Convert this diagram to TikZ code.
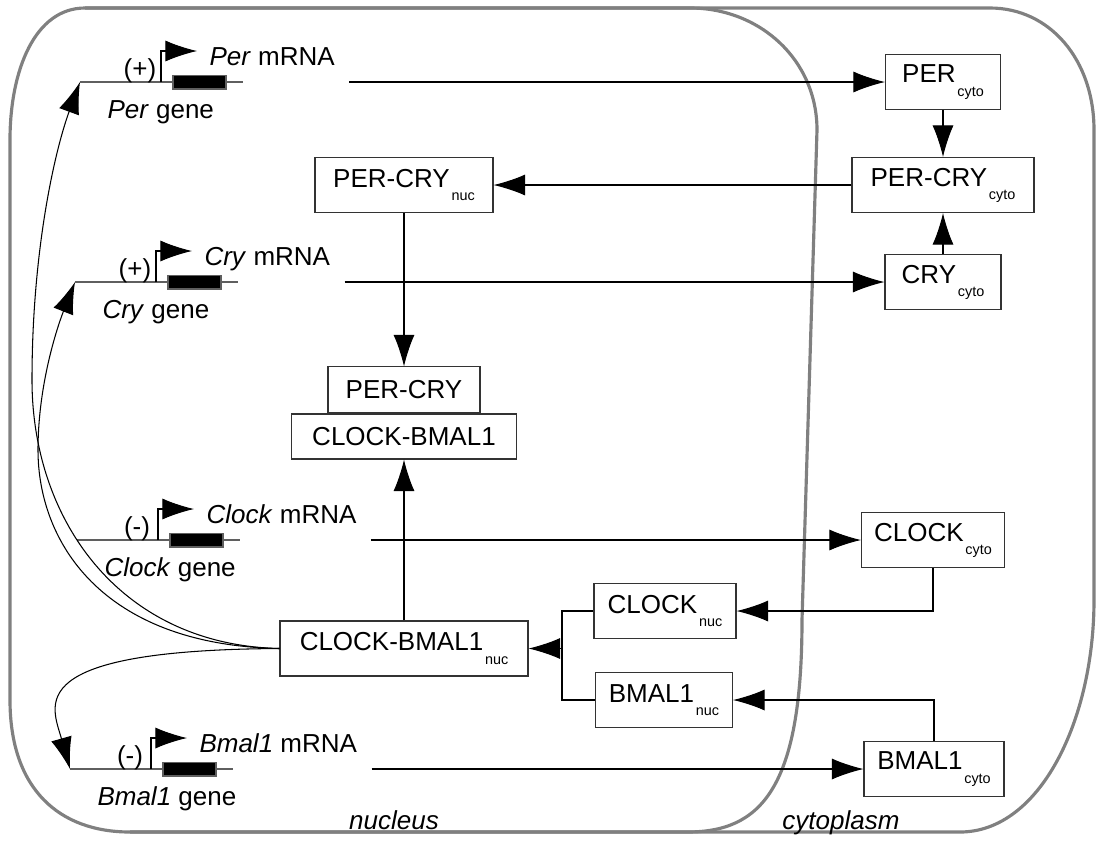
\documentclass[tikz,border=0pt]{standalone}
\usepackage{fontspec}
\setmainfont{Liberation Sans}
\usetikzlibrary{arrows.meta,positioning}
\definecolor{wall}{RGB}{128,128,128}
\definecolor{dna}{RGB}{95,95,95}
\newcommand{\loc}[1]{\kern1pt\raisebox{-7.5pt}{\fontsize{8.2}{9}\selectfont #1}}
\tikzstyle{mol}=[draw=black!80, line width=0.6pt, fill=white, inner sep=0pt, minimum height=1.1cm]
\tikzstyle{wallline}=[draw=wall, line width=1.8pt]
\tikzstyle{geneline}=[draw=dna, line width=0.8pt]
\tikzstyle{exon}=[fill=black, draw=dna, line width=0.6pt]
\tikzstyle{lbl}=[inner sep=0pt]

\begin{document}
\begin{tikzpicture}[x=0.02cm,y=-0.02cm,>={Latex[length=18pt,width=12pt]},line width=0.6pt,font=\fontsize{14.8}{17}\selectfont]
\useasboundingbox (0,0) rectangle (1096,840);
% cell and nucleus
\draw[wallline] (85,8) -- (990,8) .. controls (1050,8) and (1094,60) .. (1094,130) -- (1094,600) .. controls (1094,720) and (1040,832) .. (960,832) -- (130,832);
\draw[wallline] (85,8) -- (690,8) .. controls (760,8) and (817,60) .. (817,130) -- (802,620) .. controls (802,790) and (760,832) .. (687,832) -- (130,832) .. controls (60,832) and (10,790) .. (10,700) -- (10,140) .. controls (10,70) and (35,8) .. cycle;
\node[lbl, anchor=base] (nuc-lbl) at (394,829) {\itshape nucleus};
\node[lbl, anchor=base] (cyto-lbl) at (841,829) {\itshape cytoplasm};
% proteins
\node[mol, minimum width=2.3cm] (per-cyto) at (943,82) {PER\loc{cyto}};
\node[mol, minimum width=3.64cm] (percry-cyto) at (943,185) {PER-CRY\loc{cyto}};
\node[mol, minimum width=2.32cm] (cry-cyto) at (943,282) {CRY\loc{cyto}};
\node[mol, minimum width=3.56cm] (percry-nuc) at (404,185) {PER-CRY\loc{nuc}};
\node[mol, minimum width=4.5cm, minimum height=0.9cm] (clockbmal) at (404,436.5) {CLOCK-BMAL1};
\node[mol, minimum width=3.04cm, minimum height=0.92cm, above=0pt of clockbmal] (percry) {PER-CRY};
\node[mol, minimum width=4.96cm] (cb-nuc) at (404,648.5) {CLOCK-BMAL1\loc{nuc}};
\node[mol, minimum width=2.84cm] (clock-nuc) at (665,611) {CLOCK\loc{nuc}};
\node[mol, minimum width=2.74cm] (bmal-nuc) at (664,700) {BMAL1\loc{nuc}};
\node[mol, minimum width=2.86cm] (clock-cyto) at (933,540) {CLOCK\loc{cyto}};
\node[mol, minimum width=2.8cm] (bmal-cyto) at (934,769) {BMAL1\loc{cyto}};
\coordinate (join) at (562,648.5);
% genes
\foreach \name/\y/\xs/\sign/\gene in {per/82/80/(+)/Per, cry/282/75/(+)/Cry, clock/540/77/(-)/Clock, bmal/769/70/(-)/Bmal1}{
  \coordinate (\name-in) at (\xs,\y);
  \draw[geneline] (\name-in) -- ++(163,0);
  \draw[exon] ({\xs+93},{\y-6.5}) rectangle ++(53,13.5);
  \draw[->] ({\xs+81},\y) -- ++(0,-31) -- ++(36,0);
  \node[lbl, anchor=base] (\name-sign) at ({\xs+60},{\y-5}) {\sign};
  \node[lbl, anchor=base west] (\name-rna) at ({\xs+129},{\y-17}) {\textit{\gene} mRNA};
  \node[lbl, anchor=base west] (\name-gene) at ({\xs+27},{\y+36}) {\textit{\gene} gene};
  \draw[->] (\name-rna.east |- \name-in) ++(14,0) -- (\name-cyto.west |- \name-in);
}
% reactions
\draw[->] (per-cyto) -- (percry-cyto);
\draw[->] (cry-cyto) -- (percry-cyto);
\draw[->] (percry-cyto) -- (percry-nuc);
\draw[->] (percry-nuc) -- (percry);
\draw[->] (cb-nuc) -- (clockbmal);
\draw[->] (clock-cyto.south) |- (clock-nuc.east);
\draw[->] (bmal-cyto.north) |- (bmal-nuc.east);
\draw (clock-nuc.west) -| (join) |- (bmal-nuc.west);
\draw[->] (join) -- (cb-nuc.east);
% regulation
\draw[->] (cb-nuc.west) .. controls (120,645) and (32,520) .. (32,380) .. controls (32,250) and (55,150) .. (per-in);
\draw[->] (cb-nuc.west) .. controls (100,645) and (38,540) .. (38,450) .. controls (38,380) and (60,320) .. (cry-in);
\draw[->] (cb-nuc.west) .. controls (20,650) and (52,705) .. (bmal-in);
\end{tikzpicture}
\end{document}
